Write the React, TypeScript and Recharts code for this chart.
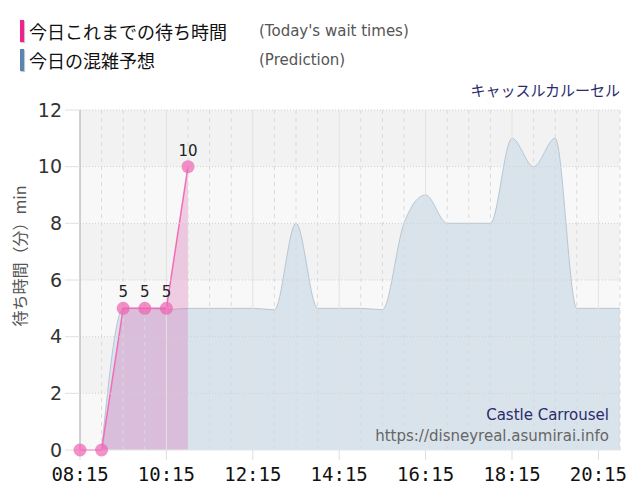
import React from 'react';
import {
  ComposedChart, Area, XAxis, YAxis, ReferenceArea, ReferenceLine,
} from 'recharts';

const timeLabels = [
  '08:15', '08:45', '09:15', '09:45', '10:15', '10:45', '11:15', '11:45',
  '12:15', '12:45', '13:15', '13:45', '14:15', '14:45', '15:15', '15:45',
  '16:15', '16:45', '17:15', '17:45', '18:15', '18:45', '19:15', '19:45',
  '20:15', '20:45',
];
const actualWait: (number | null)[] = [0, 0, 5, 5, 5, 10];
const predictedWait: (number | null)[] = [
  null, 0, 5, 5, 4.95, 5, 5, 5, 5, 4.95, 8, 5, 5, 5, 4.95, 8,
  9, 8, 8, 8, 11, 10, 11, 5, 5, 5,
];
const xTickLabels = ['08:15', '10:15', '12:15', '14:15', '16:15', '18:15', '20:15'];
const yTicks = [0, 2, 4, 6, 8, 10, 12];

const toMin = (s: string) => {
  const [h, m] = s.split(':').map(Number);
  return h * 60 + m;
};
const fmt = (v: number) => {
  const h = Math.floor(v / 60);
  const m = v % 60;
  return `${String(h).padStart(2, '0')}:${String(m).padStart(2, '0')}`;
};

const data = timeLabels.map((t, i) => ({
  t: toMin(t),
  actual: i < actualWait.length ? actualWait[i] : null,
  predicted: predictedWait[i],
}));

const xTicks = xTickLabels.map(toMin);
const gridTimes = timeLabels.map(toMin).filter((v) => !xTicks.includes(v));
const domainX: [number, number] = [toMin('08:15'), toMin('20:45')];

const PointLabel = (props: any) => {
  const { x, y, value } = props;
  if (value == null || value === 0) return null;
  return (
    <text x={x} y={y - 11} textAnchor="middle" fontSize={15} fill="#222"
      fontFamily="DejaVu Sans, Verdana, sans-serif">
      {value}
    </text>
  );
};

export default function App() {
  return (
    <div style={{ position: 'absolute', left: 0, top: 0, width: 640, height: 500, background: '#fff' }}>
      {/* legend */}
      <div style={{ position: 'absolute', left: 20, top: 20, width: 4, height: 22, background: '#f0228e', boxShadow: '1px 1px 1px rgba(0,0,0,0.25)' }} />
      <div style={{ position: 'absolute', left: 29, top: 19, height: 24, lineHeight: '24px', fontSize: 18, color: '#111', fontFamily: '"Noto Sans CJK JP", sans-serif', whiteSpace: 'nowrap' }}>今日これまでの待ち時間</div>
      <div style={{ position: 'absolute', left: 259, top: 21, height: 20, lineHeight: '20px', fontSize: 15, color: '#555', fontFamily: '"DejaVu Sans", sans-serif', whiteSpace: 'nowrap' }}>(Today's wait times)</div>
      <div style={{ position: 'absolute', left: 20, top: 49, width: 4, height: 22, background: '#5b84b1', boxShadow: '1px 1px 1px rgba(0,0,0,0.25)' }} />
      <div style={{ position: 'absolute', left: 29, top: 48, height: 24, lineHeight: '24px', fontSize: 18, color: '#111', fontFamily: '"Noto Sans CJK JP", sans-serif', whiteSpace: 'nowrap' }}>今日の混雑予想</div>
      <div style={{ position: 'absolute', left: 259, top: 50, height: 20, lineHeight: '20px', fontSize: 15, color: '#555', fontFamily: '"DejaVu Sans", sans-serif', whiteSpace: 'nowrap' }}>(Prediction)</div>
      {/* title */}
      <div style={{ position: 'absolute', right: 20, top: 79, height: 22, lineHeight: '22px', fontSize: 15, color: '#2b2b6b', fontFamily: '"Noto Sans CJK JP", sans-serif', whiteSpace: 'nowrap' }}>キャッスルカルーセル</div>
      {/* y axis title */}
      <div style={{ position: 'absolute', left: 19 - 100, top: 256 - 11, width: 200, height: 22, lineHeight: '22px', textAlign: 'center', transform: 'rotate(-90deg)', fontSize: 16, color: '#555', fontFamily: '"Noto Sans CJK JP", sans-serif', whiteSpace: 'nowrap' }}>待ち時間（分）min</div>

      <ComposedChart width={640} height={500} data={data}
        margin={{ top: 110, right: 20, bottom: 20, left: 20 }}
        style={{ position: 'absolute', left: 0, top: 0 }}>
        <ReferenceArea y1={10} y2={12} fill="#f2f2f2" fillOpacity={1} stroke="none" />
        <ReferenceArea y1={8} y2={10} fill="#f8f8f8" fillOpacity={1} stroke="none" />
        <ReferenceArea y1={6} y2={8} fill="#f2f2f2" fillOpacity={1} stroke="none" />
        <ReferenceArea y1={4} y2={6} fill="#f8f8f8" fillOpacity={1} stroke="none" />
        <ReferenceArea y1={2} y2={4} fill="#f2f2f2" fillOpacity={1} stroke="none" />
        <ReferenceArea y1={0} y2={2} fill="#f8f8f8" fillOpacity={1} stroke="none" />
        {gridTimes.map((v) => (
          <ReferenceLine key={`g${v}`} x={v} stroke="#dadada" strokeDasharray="4 4" />
        ))}
        {xTicks.map((v) => (
          <ReferenceLine key={`t${v}`} x={v} stroke="#e2e2e2" />
        ))}
        {yTicks.slice(1).map((v) => (
          <ReferenceLine key={`y${v}`} y={v} stroke="#cfcfcf" strokeDasharray="1 2" />
        ))}
        <XAxis dataKey="t" type="number" domain={domainX} ticks={xTicks} tickFormatter={fmt}
          allowDataOverflow height={30} tickSize={10} tickMargin={8}
          axisLine={{ stroke: '#e6e6e6' }} tickLine={{ stroke: '#dddddd' }}
          tick={{ fontSize: 19, fill: '#111', fontFamily: '"DejaVu Sans Mono", monospace' }} />
        <YAxis type="number" domain={[0, 12]} ticks={yTicks} width={60} tickSize={15} tickMargin={3}
          axisLine={{ stroke: '#b0b0b8' }} tickLine={{ stroke: '#e0e0e0' }}
          tick={{ fontSize: 19, fill: '#333', fontFamily: '"DejaVu Sans", sans-serif' }} />
        <Area type="monotone" dataKey="predicted" stroke="#b7c7d3" strokeWidth={1}
          fill="#d9e3ec" fillOpacity={1} connectNulls={false} dot={false} activeDot={false}
          isAnimationActive={false} />
        <Area type="linear" dataKey="actual" stroke="#f26cb8" strokeWidth={1.5}
          fill="#de68b4" fillOpacity={0.3}
          dot={{ r: 6.5, fill: '#ee62b0', fillOpacity: 0.7, stroke: 'none', clipDot: false } as any}
          activeDot={false} label={<PointLabel />} isAnimationActive={false} />
      </ComposedChart>

      <div style={{ position: 'absolute', right: 31, top: 405, height: 20, lineHeight: '20px', fontSize: 15, color: '#2b2b6b', fontFamily: '"DejaVu Sans", sans-serif', whiteSpace: 'nowrap' }}>Castle Carrousel</div>
      <div style={{ position: 'absolute', right: 31, top: 426, height: 20, lineHeight: '20px', fontSize: 15, color: '#666', fontFamily: '"DejaVu Sans", sans-serif', whiteSpace: 'nowrap' }}>https://disneyreal.asumirai.info</div>
    </div>
  );
}
